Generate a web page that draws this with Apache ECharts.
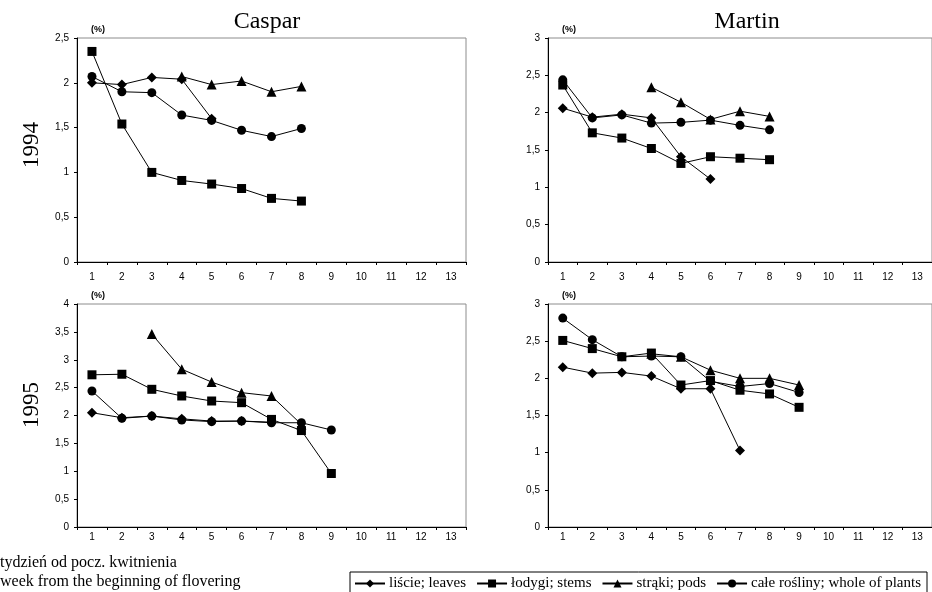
<!DOCTYPE html>
<html>
<head>
<meta charset="utf-8">
<script src="https://cdn.jsdelivr.net/npm/echarts@6/dist/echarts.min.js"></script>
<style>
html,body{margin:0;padding:0;background:#fff;}
#c{width:932px;height:592px;}
</style>
</head>
<body>
<div id="c"></div>
<script>
// ---- data ----
var weeks = ['1','2','3','4','5','6','7','8','9','10','11','12','13'];
var seriesNames = ['liście; leaves', 'łodygi; stems', 'strąki; pods', 'całe rośliny; whole of plants'];
var panelTitles = ['Caspar', 'Martin'];
var yearLabels = ['1994', '1995'];
var axisMax = [2.5, 3, 4, 3];

// Caspar 1994
var c94Leaves = [2.00, 1.98, 2.06, 2.04, 1.60];
var c94Stems  = [2.35, 1.54, 1.00, 0.91, 0.87, 0.82, 0.71, 0.68];
var c94Pods   = [null, null, null, 2.07, 1.98, 2.02, 1.90, 1.96];
var c94Whole  = [2.07, 1.90, 1.89, 1.64, 1.58, 1.47, 1.40, 1.49];
// Martin 1994
var m94Leaves = [2.06, 1.94, 1.98, 1.93, 1.41, 1.11];
var m94Stems  = [2.37, 1.73, 1.66, 1.52, 1.32, 1.41, 1.39, 1.37];
var m94Pods   = [null, null, null, 2.34, 2.14, 1.91, 2.02, 1.95];
var m94Whole  = [2.44, 1.93, 1.97, 1.86, 1.87, 1.90, 1.83, 1.77];
// Caspar 1995
var c95Leaves = [2.05, 1.96, 1.99, 1.94, 1.90, 1.90, 1.88];
var c95Stems  = [2.73, 2.74, 2.47, 2.35, 2.26, 2.23, 1.93, 1.73, 0.96];
var c95Pods   = [null, null, 3.46, 2.83, 2.60, 2.41, 2.35, 1.84];
var c95Whole  = [2.44, 1.95, 1.99, 1.92, 1.89, 1.90, 1.87, 1.87, 1.74];
// Martin 1995
var m95Leaves = [2.15, 2.07, 2.08, 2.03, 1.86, 1.86, 1.03];
var m95Stems  = [2.51, 2.40, 2.29, 2.34, 1.91, 1.97, 1.84, 1.79, 1.61];
var m95Pods   = [null, null, null, 2.33, 2.29, 2.11, 2.00, 2.00, 1.91];
var m95Whole  = [2.81, 2.52, 2.29, 2.30, 2.29, 1.96, 1.89, 1.93, 1.81];

var panelData = [
  [c94Leaves, c94Stems, c94Pods, c94Whole],
  [m94Leaves, m94Stems, m94Pods, m94Whole],
  [c95Leaves, c95Stems, c95Pods, c95Whole],
  [m95Leaves, m95Stems, m95Pods, m95Whole]
];

// ---- layout / style ----
var symbols = ['diamond', 'rect', 'triangle', 'circle'];
var symbolSizes = [10, 9, 10, 9];
var gridPos = [
  {left: 77, top: 38, width: 389, height: 224},
  {left: 548, top: 38, width: 389, height: 224},
  {left: 77, top: 304, width: 389, height: 223},
  {left: 548, top: 304, width: 389, height: 223}
];
var labelMargins = [10, 10, 5, 5];
var sans = '"Liberation Sans", Arial, sans-serif';
var serif = '"Liberation Serif", "Times New Roman", serif';

var grids = [], xAxes = [], yAxes = [], series = [];
gridPos.forEach(function (g, i) {
  grids.push({left: g.left, top: g.top, width: g.width, height: g.height,
    show: true, borderColor: '#8c8c8c', borderWidth: 1, backgroundColor: 'transparent', containLabel: false});
  xAxes.push({
    type: 'category', gridIndex: i, data: weeks, boundaryGap: true,
    axisLine: {lineStyle: {color: '#000', width: 1}},
    axisTick: {show: true, length: 3, lineStyle: {color: '#000'}},
    axisLabel: {fontSize: 10, fontFamily: sans, color: '#000', margin: labelMargins[i], interval: 0},
    splitLine: {show: false}
  });
  yAxes.push({
    type: 'value', gridIndex: i, min: 0, max: axisMax[i], interval: 0.5,
    axisLine: {show: true, lineStyle: {color: '#000', width: 1}},
    axisTick: {show: true, length: 3, lineStyle: {color: '#000'}},
    axisLabel: {fontSize: 10, fontFamily: sans, color: '#000', margin: 8,
      formatter: function (v) { return String(v).replace('.', ','); }},
    splitLine: {show: false}
  });
  panelData[i].forEach(function (arr, k) {
    series.push({
      type: 'line', name: seriesNames[k], xAxisIndex: i, yAxisIndex: i,
      data: arr, symbol: symbols[k], symbolSize: symbolSizes[k], showSymbol: true,
      connectNulls: false,
      lineStyle: {color: '#000', width: 1},
      itemStyle: {color: '#000', borderColor: '#000', borderWidth: 0},
      emphasis: {disabled: true}, z: 2 + k
    });
  });
});

var graphics = [
  {type: 'text', x: 267, y: 22, style: {text: panelTitles[0], font: '24px ' + serif, fill: '#000', textAlign: 'center', textVerticalAlign: 'middle'}},
  {type: 'text', x: 747, y: 22, style: {text: panelTitles[1], font: '24px ' + serif, fill: '#000', textAlign: 'center', textVerticalAlign: 'middle'}},
  {type: 'text', x: 32, y: 145, rotation: Math.PI / 2, style: {text: yearLabels[0], font: '23px ' + serif, fill: '#000', textAlign: 'center', textVerticalAlign: 'middle'}},
  {type: 'text', x: 32, y: 405, rotation: Math.PI / 2, style: {text: yearLabels[1], font: '23px ' + serif, fill: '#000', textAlign: 'center', textVerticalAlign: 'middle'}},
  {type: 'text', x: 98, y: 30, style: {text: '(%)', font: 'bold 9px ' + sans, fill: '#000', textAlign: 'center', textVerticalAlign: 'middle'}},
  {type: 'text', x: 569, y: 30, style: {text: '(%)', font: 'bold 9px ' + sans, fill: '#000', textAlign: 'center', textVerticalAlign: 'middle'}},
  {type: 'text', x: 98, y: 296, style: {text: '(%)', font: 'bold 9px ' + sans, fill: '#000', textAlign: 'center', textVerticalAlign: 'middle'}},
  {type: 'text', x: 569, y: 296, style: {text: '(%)', font: 'bold 9px ' + sans, fill: '#000', textAlign: 'center', textVerticalAlign: 'middle'}},
  {type: 'text', x: 0, y: 563, style: {text: 'tydzień od pocz. kwitnienia', font: '16px ' + serif, fill: '#000', textAlign: 'left', textVerticalAlign: 'middle'}},
  {type: 'text', x: 0, y: 582, style: {text: 'week from the beginning of flovering', font: '16px ' + serif, fill: '#000', textAlign: 'left', textVerticalAlign: 'middle'}}
];

var chart = echarts.init(document.getElementById('c'), null, {renderer: 'canvas'});
chart.setOption({
  animation: false,
  backgroundColor: '#fff',
  grid: grids,
  xAxis: xAxes,
  yAxis: yAxes,
  series: series,
  legend: {
    data: seriesNames, left: 350, top: 572, orient: 'horizontal',
    itemWidth: 30, itemHeight: 10, itemGap: 10,
    borderColor: '#000', borderWidth: 1, padding: [4, 6, 6, 4],
    textStyle: {fontFamily: serif, fontSize: 15, color: '#000', padding: [0, 0, 0, -1]},
    selectedMode: false
  },
  graphic: graphics
});
</script>
</body>
</html>
